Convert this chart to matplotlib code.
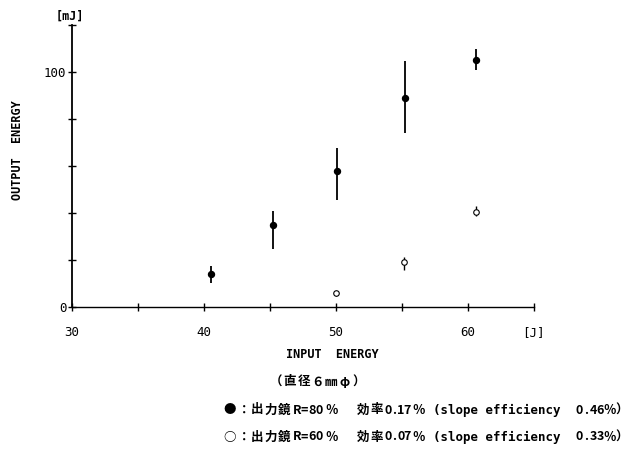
import matplotlib
matplotlib.use("Agg")
import matplotlib.pyplot as plt

# R=80% output mirror (filled)
x80 = [40.5, 45.2, 50.1, 55.25, 60.65]
y80 = [13.7, 34.8, 57.9, 88.8, 105.1]
lo80 = [10.0, 24.4, 45.4, 74.1, 100.9]
hi80 = [17.3, 40.9, 67.5, 104.8, 109.8]

# R=60% output mirror (open)
x60 = [50.0, 55.2, 60.6]
y60 = [5.6, 19.0, 40.4]
lo60 = [4.6, 15.6, 38.6]
hi60 = [6.4, 21.0, 42.9]

xticks = [30, 35, 40, 45, 50, 55, 60, 65]
xticklabels = ["30", "", "40", "", "50", "", "60", "[J]"]
yticks = [0, 20, 40, 60, 80, 100, 120]
yticklabels = ["0", "", "", "", "", "100", ""]

caption = "（直径６㎜φ）"
mirror_R = ["80", "60"]
eff = ["0.17", "0.07"]
slope_eff = ["0.46", "0.33"]
marks = ["●", "○"]

W, H = 633, 450
fig = plt.figure(figsize=(W / 100, H / 100), dpi=100)
ax = fig.add_axes([72 / W, (H - 306.5) / H, (533.7 - 72) / W, (306.5 - 25) / H])
ax.set_xlim(30, 65)
ax.set_ylim(0, 120)

mono = "DejaVu Sans Mono"
cjk = ["Noto Sans CJK JP", "DejaVu Sans"]

err80 = [[y - l for y, l in zip(y80, lo80)], [h - y for y, h in zip(y80, hi80)]]
err60 = [[y - l for y, l in zip(y60, lo60)], [h - y for y, h in zip(y60, hi60)]]
ax.errorbar(x80, y80, yerr=err80, fmt="o", color="black", ms=4.3,
            elinewidth=1.3, capsize=0, zorder=3)
ax.errorbar(x60, y60, yerr=err60, fmt="o", color="black", mfc="white",
            ms=4, mew=0.8, elinewidth=1.0, capsize=0, zorder=3)

for s in ["top", "right"]:
    ax.spines[s].set_visible(False)
ax.spines["left"].set_linewidth(1.3)
ax.spines["bottom"].set_linewidth(1.0)

ax.set_xticks(xticks)
ax.set_xticklabels(xticklabels, fontfamily=mono, fontsize=9)
ax.set_yticks(yticks)
ax.set_yticklabels(yticklabels, fontfamily=mono, fontsize=9)
ax.tick_params(axis="x", direction="inout", length=6, width=1.0, pad=11)
ax.tick_params(axis="y", direction="inout", length=6, width=1.0, pad=1)

fig.text(70 / W, 1 - 16 / H, "[mJ]", fontfamily=mono, fontsize=8.5,
         fontweight="bold", ha="center", va="center")
fig.text(18 / W, 1 - 150 / H, "OUTPUT  ENERGY", fontfamily=mono, fontsize=8.5,
         fontweight="bold", rotation=90, ha="center", va="center")
fig.text(332 / W, 1 - 355 / H, "INPUT  ENERGY", fontfamily=mono, fontsize=8.5,
         fontweight="bold", ha="center", va="center")


def spaced(x, y, s, pitch, size=9, family=cjk):
    for i, ch in enumerate(s):
        fig.text((x + i * pitch) / W, 1 - y / H, ch, fontfamily=family,
                 fontsize=size, fontweight="bold", ha="center", va="center")


# caption
spaced(276, 382, caption, 13.8)

for i, yy in enumerate([410, 437]):
    spaced(230, yy, marks[i], 0, size=9)
    spaced(244, yy, "：出力鏡", 13.3)
    spaced(297, yy, "R=" + mirror_R[i], 7.5)
    spaced(332, yy, "％", 0)
    spaced(363, yy, "効率", 14)
    spaced(388, yy, eff[i], 6.5)
    spaced(419, yy, "％", 0)
    fig.text(433 / W, 1 - yy / H, "(slope efficiency", fontfamily=mono,
             fontsize=9, fontweight="bold", ha="left", va="center")
    spaced(579, yy, slope_eff[i], 7)
    spaced(610, yy, "％）", 12)

fig.savefig("out.png", dpi=100, facecolor="white")
